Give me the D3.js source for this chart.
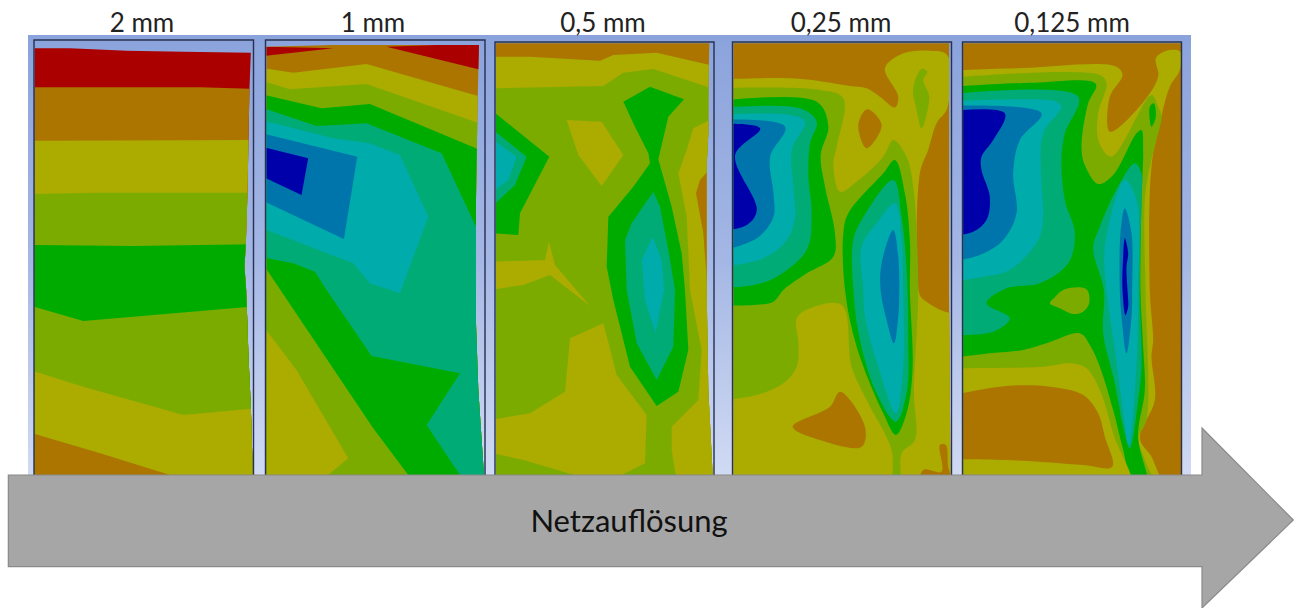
<!DOCTYPE html>
<html><head><meta charset="utf-8">
<script src="https://cdn.jsdelivr.net/npm/d3@7"></script>
<style>html,body{margin:0;background:#fff}svg{display:block}text{font-family:Lato,"Open Sans",sans-serif}</style>
</head><body><svg id="c" width="1302" height="608"></svg>
<script>
const categories=["2 mm","1 mm","0,5 mm","0,25 mm","0,125 mm"];
const axisLabel="Netzauflösung";
const levelColors=["#0000ab","#0074ab","#00abab","#00ab74","#00ab00","#7cab00","#abab00","#ab7400","#ab0000"];
const [DB,BL,TE,TG,GR,YG,OL,BR,RE]=d3.range(9);
// Contour bands: [level, outline], painted in order, in field units.
const outline1=[[104,145],[210,145],[380,152],[550,155],[752,158],[748,266],[745,420],[742,578],[737,732],[733,800],[738,870],[740,922],[745,1070],[752,1220],[758,1425],[104,1425]];
const bands1=[
[RE,[[100,140],[800,140],[800,1430],[100,1430]]],
[BR,[[104,262],[600,262],[748,266],[800,266],[800,1430],[100,1430]]],
[OL,[[100,422],[800,420],[800,1430],[100,1430]]],
[YG,[[100,582],[300,578],[800,578],[800,1430],[100,1430]]],
[GR,[[100,735],[400,738],[800,732],[800,1430],[100,1430]]],
[YG,[[100,920],[250,963],[800,916],[800,1430],[100,1430]]],
[OL,[[100,1113],[250,1160],[550,1245],[800,1222],[800,1430],[100,1430]]],
[BR,[[100,1301],[300,1360],[510,1425],[510,1430],[100,1430]]]];
const outline2=[[800,140],[1000,135],[1160,135],[1437,135],[1433,300],[1428,600],[1428,970],[1435,1170],[1445,1320],[1452,1425],[800,1425]];
const bands2=[
[BR,[[795,130],[1460,130],[1460,1430],[795,1430]]],
[RE,[[795,140],[1000,145],[795,168]]],
[RE,[[1160,140],[1460,130],[1460,212],[1432,207]]],
[OL,[[795,205],[880,218],[1100,192],[1460,295],[1460,1430],[795,1430]]],
[YG,[[795,245],[870,268],[1100,252],[1460,378],[1460,1430],[795,1430]]],
[GR,[[795,285],[965,325],[1110,312],[1460,458],[1460,1430],[795,1430]]],
[TG,[[795,326],[950,378],[1100,370],[1325,460],[1428,680],[1460,680],[1460,1430],[1380,1425],[1280,1275],[1380,1120],[1115,1068],[980,870],[945,815],[880,790],[795,773]]],
[TE,[[795,363],[1000,415],[1110,430],[1200,465],[1285,650],[1200,880],[1110,850],[1060,790],[795,688]]],
[BL,[[795,402],[1072,470],[1032,717],[795,605]]],
[DB,[[795,442],[925,475],[905,585],[795,533]]],
[YG,[[795,800],[1120,1285],[1225,1425],[1225,1430],[795,1430]]],
[OL,[[795,985],[890,1110],[1045,1375],[985,1425],[985,1430],[795,1430]]]];
const outline3=[[18,130],[658,130],[655,300],[655,400],[650,500],[650,870],[655,1170],[668,1425],[18,1425]];
const bands3=[
[BR,[[10,125],[680,125],[680,1430],[10,1430]]],
[OL,[[10,170],[120,170],[330,182],[370,165],[500,158],[680,200],[680,1430],[10,1430]]],
[YG,[[10,265],[340,258],[400,218],[490,207],[680,270],[680,1430],[10,1430]]],
[OL,[[680,350],[610,385],[590,450],[565,520],[590,650],[600,870],[635,1050],[625,1200],[545,1280],[545,1350],[558,1430],[680,1430]]],
[BR,[[680,485],[630,540],[618,580],[640,700],[652,860],[680,860]]],
[OL,[[10,785],[165,780],[177,725],[195,795],[300,918],[180,825],[100,855],[10,868]]],
[OL,[[230,360],[335,365],[400,465],[335,558],[265,465]]],
[GR,[[400,305],[480,260],[582,298],[535,350],[505,478],[545,620],[575,760],[585,870],[595,1050],[565,1175],[500,1218],[420,1100],[370,900],[350,800],[355,650],[430,560],[480,490],[475,460],[435,380]]],
[TG,[[490,575],[510,620],[535,750],[555,870],[550,1040],[500,1140],[440,1030],[410,870],[405,720],[425,670]]],
[TE,[[488,710],[515,780],[522,870],[497,1000],[465,900],[455,780]]],
[GR,[[10,335],[178,470],[90,640],[85,705],[10,700]]],
[TG,[[10,390],[110,470],[75,555],[10,616]]],
[TE,[[10,420],[80,470],[55,540],[10,575]]],
[OL,[[10,1258],[120,1240],[225,1175],[240,1015],[340,970],[380,1125],[470,1245],[465,1390],[385,1430],[270,1430],[100,1380],[10,1360]]]];
const outline4=[[730,130],[1378,130],[1378,870],[1382,1425],[730,1425]];
const bands4=[
[BR,[[725,125],[1390,125],[1390,1430],[725,1430]]],
[OL,[[665,238],[900,235],[1000,245],[1080,258],[1130,265],[1170,290],[1215,322],[1225,290],[1185,205],[1240,160],[1320,152],[1372,165],[1372,325],[1340,370],[1315,450],[1290,520],[1288,880],[1295,893],[1372,937],[1450,937],[1450,1500],[665,1500]]],
[BR,[[1105,375],[1132,328],[1175,375],[1130,445]]],
[YG,[[1295,207],[1312,215],[1300,240],[1318,290],[1295,385],[1280,330],[1270,265]]],
[BR,[[1350,1335],[1368,1335],[1375,1400],[1390,1470],[1290,1470],[1300,1410],[1355,1415]]],
[YG,[[665,265],[990,270],[1060,295],[1040,440],[1030,490],[1050,575],[1100,545],[1180,470],[1210,420],[1250,470],[1270,560],[1285,870],[1272,1170],[1275,1320],[1235,1360],[1230,1470],[1212,1470],[1205,1350],[1130,1200],[1085,1100],[1055,915],[960,925],[920,955],[925,1030],[920,1100],[880,1150],[800,1185],[665,1205]]],
[BR,[[908,1280],[1020,1220],[1050,1175],[1125,1280],[1115,1340],[990,1320]]],
[GR,[[665,305],[980,305],[1015,378],[992,465],[1005,560],[1035,700],[1030,770],[950,820],[880,870],[850,905],[790,915],[665,915]]],
[TG,[[665,325],[930,325],[980,365],[960,430],[955,530],[965,640],[950,750],[860,830],[790,855],[665,865]]],
[TE,[[665,345],[900,345],[945,365],[905,450],[910,560],[915,650],[890,720],[820,775],[665,805]]],
[BL,[[665,360],[885,380],[840,470],[850,580],[850,650],[800,715],[665,760]]],
[DB,[[665,372],[810,385],[735,465],[800,630],[770,675],[665,695]]],
[GR,[[1215,480],[1245,580],[1260,720],[1260,870],[1268,1110],[1250,1240],[1218,1305],[1180,1240],[1100,1040],[1065,870],[1060,700],[1075,640],[1180,520]]],
[TG,[[1210,540],[1235,650],[1250,800],[1255,1000],[1250,1180],[1218,1265],[1160,1180],[1110,1020],[1090,870],[1090,720],[1115,660]]],
[TE,[[1215,610],[1235,720],[1240,870],[1240,1100],[1218,1240],[1165,1100],[1125,950],[1120,870],[1115,740],[1160,670]]],
[BL,[[1210,690],[1225,770],[1228,870],[1225,950],[1212,1030],[1190,960],[1172,870],[1175,790]]]];
const outline5=[[40,130],[695,130],[695,1425],[40,1425]];
const bands5=[
[BR,[[35,125],[700,125],[700,1430],[35,1430]]],
[OL,[[-25,212],[200,205],[500,200],[518,225],[480,290],[480,395],[560,330],[625,230],[618,175],[650,152],[692,155],[690,210],[660,260],[630,370],[605,500],[600,870],[610,1020],[605,1070],[615,1200],[570,1315],[610,1380],[630,1500],[-25,1500]]],
[BR,[[760,1060],[670,1120],[662,1170],[685,1250],[760,1260]]],
[YG,[[-25,235],[450,225],[470,250],[445,340],[447,425],[485,470],[605,285],[625,320],[635,350],[620,420],[600,500],[585,600],[587,870],[590,1260],[565,1315],[585,1380],[620,1500],[-25,1500]]],
[GR,[[-25,262],[250,248],[438,252],[415,310],[395,440],[405,495],[445,552],[490,525],[560,400],[575,390],[580,450],[575,600],[572,870],[580,1040],[585,1170],[565,1310],[595,1470],[555,1470],[520,1350],[490,1230],[450,1100],[420,1035],[390,1000],[290,1030],[220,1050],[120,1060],[-25,1078]]],
[GR,[[600,320],[612,310],[618,350],[605,380]]],
[YG,[[312,895],[345,868],[410,868],[418,910],[400,935],[370,942],[330,925],[300,910]]],
[OL,[[-25,1105],[280,1100],[360,1090],[410,1105],[450,1170],[490,1300],[545,1500],[-25,1500]]],
[BR,[[-25,1192],[170,1158],[300,1160],[400,1185],[445,1240],[465,1310],[487,1400],[400,1395],[170,1380],[-25,1377]]],
[TG,[[-25,285],[385,290],[345,400],[335,480],[345,600],[375,700],[355,790],[270,850],[170,865],[110,910],[180,955],[130,995],[-25,1005]]],
[TE,[[-25,305],[320,305],[335,320],[280,400],[275,550],[280,650],[265,720],[180,810],[100,830],[-25,850]]],
[BL,[[-25,318],[275,340],[210,420],[190,520],[200,640],[160,720],[90,765],[-25,790]]],
[DB,[[-25,335],[165,340],[130,420],[95,470],[95,510],[120,590],[110,660],[70,695],[-25,712]]],
[TG,[[555,490],[575,520],[575,600],[570,870],[575,1100],[565,1200],[540,1345],[520,1280],[495,1150],[460,1000],[462,870],[430,745],[450,680],[510,550]]],
[TE,[[525,540],[560,600],[565,870],[560,1100],[537,1335],[515,1200],[495,1050],[470,870],[465,740]]],
[BL,[[525,625],[545,700],[547,870],[545,950],[530,1060],[515,950],[510,870],[512,700]]],
[DB,[[525,715],[535,760],[530,800],[533,870],[535,920],[527,945],[518,870],[520,770]]]];
const panelBands=[bands1,bands2,bands3,bands4,bands5];
const panelOutlines=[outline1,outline2,outline3,outline4,outline5];
const fieldDomains=[[102,760],[797,1455],[15,672],[727,1385],[38,695]];
const panelRanges=[[34,253.5],[265.5,485],[495,714],[732.5,951.5],[962.5,1181.5]];
const panelTops=[40,40,42,42,42];
const titleCenters=[142,373,603,841,1072];
const arrowShape=[[25,1425],[3606,1425],[3606,1284],[3880,1560],[3606,1824],[3606,1700],[25,1700]];

const svg=d3.select("#c");
const y=d3.scaleLinear().domain([0,1824]).range([0,608]);
const arrowX=d3.scaleLinear().domain([0,3906]).range([0,1302]);
const defs=svg.append("defs");
const g=defs.append("linearGradient").attr("id","bg").attr("x1",0).attr("x2",0).attr("y1",0).attr("y2",1);
g.append("stop").attr("offset",0).attr("stop-color","#8ba3dc");
g.append("stop").attr("offset",.5).attr("stop-color","#a3b6e4");
g.append("stop").attr("offset",1).attr("stop-color","#d0daf3");
defs.append("filter").attr("id","soft").append("feGaussianBlur").attr("stdDeviation",.55);
svg.append("rect").attr("x",28).attr("y",35).attr("width",1163).attr("height",440).attr("fill","url(#bg)");

categories.forEach((name,i)=>{
  const x=d3.scaleLinear().domain(fieldDomains[i]).range(panelRanges[i]);
  const clipLine=d3.line().x(d=>x(d[0])).y(d=>y(d[1])).curve(d3.curveLinearClosed);
  const smooth=d3.line().x(d=>x(d[0])).y(d=>y(d[1])).curve(d3.curveCatmullRomClosed.alpha(0.5));
  // Corners beyond the panel edge stay sharp, so the curve does not bulge back into the field.
  const line=pts=>i>=3?smooth(pts.flatMap(p=>p[0]<fieldDomains[i][0]-10?[p,p]:[p])):clipLine(pts);
  defs.append("clipPath").attr("id","clip"+i).append("path").attr("d",clipLine(panelOutlines[i]));
  const p=svg.append("g").attr("filter","url(#soft)");
  p.append("g").attr("clip-path",`url(#clip${i})`).selectAll("path").data(panelBands[i]).join("path")
    .attr("d",(d,j)=>(j===0?clipLine:line)(d[1])).attr("fill",d=>levelColors[d[0]]);
  const [l,r]=panelRanges[i];
  const t=panelTops[i];
  p.append("path").attr("d",`M${l},475V${t}H${r}V475`).attr("fill","none").attr("stroke","#26304f").attr("stroke-width",1.4);
  svg.append("text").attr("x",titleCenters[i]).attr("y",31.5).attr("text-anchor","middle")
    .attr("font-size",26).attr("fill","#222").text(name);
});
const arrow=d3.line().x(d=>arrowX(d[0])).y(d=>y(d[1])).curve(d3.curveLinearClosed);
svg.append("path").attr("d",arrow(arrowShape)).attr("fill","#a6a6a6").attr("stroke","#8a8a8a").attr("stroke-width",1.2);
svg.append("text").attr("x",629).attr("y",532).attr("text-anchor","middle").attr("font-size",31).attr("fill","#111").text(axisLabel);
</script></body></html>
